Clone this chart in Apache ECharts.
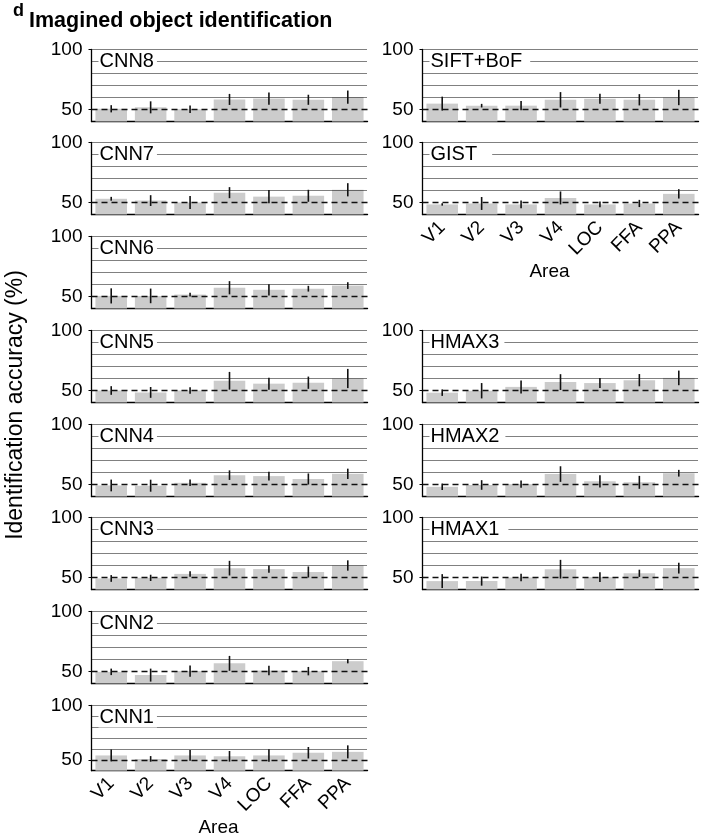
<!DOCTYPE html>
<html>
<head>
<meta charset="utf-8">
<script src="https://cdn.jsdelivr.net/npm/echarts@6/dist/echarts.min.js"></script>
<style>
  html, body { margin: 0; padding: 0; background: #fff; }
  #chart { width: 712px; height: 838px; }
</style>
</head>
<body>
<div id="chart"></div>
<script>
// categories (brain areas)
const areas = ['V1', 'V2', 'V3', 'V4', 'LOC', 'FFA', 'PPA'];
const yTicks = [50, 100];
const gridValues = [60, 70, 80, 90, 100];
const chance = 50;

// mean identification accuracy (%) and error (sd) per feature
const cnn8 = [50.6, 51.8, 50.2, 58.4, 59.1, 58.1, 60.3];
const cnn8Err = [3, 5, 3.2, 4.6, 5.1, 4.2, 5.5];
const cnn7 = [53.1, 51.6, 50, 58.2, 54.9, 55.6, 60.6];
const cnn7Err = [1.6, 4.5, 5.4, 4.6, 5.5, 5, 5.5];
const cnn6 = [50.5, 50.5, 51.6, 57.3, 55.6, 56.5, 59.1];
const cnn6Err = [6.3, 6.1, 1.5, 5.5, 4.7, 2.4, 2.8];
const cnn5 = [50, 48.4, 50, 58.1, 55.7, 56.5, 60];
const cnn5Err = [3.6, 4.5, 2.7, 7.4, 5, 5.1, 8];
const cnn4 = [49.2, 49, 51.4, 57.8, 57, 54.6, 58.9];
const cnn4Err = [4.9, 5, 2.7, 4, 3.6, 4.6, 4.3];
const cnn3 = [49.2, 49.7, 53, 57.8, 57, 54.6, 60];
const cnn3Err = [2.8, 2.6, 2.3, 6.1, 3.1, 4.6, 4.3];
const cnn2 = [49.7, 47, 50.3, 56.8, 50.8, 50.3, 58.6];
const cnn2Err = [2.7, 5.4, 4.6, 6.2, 3.9, 3.5, 1.8];
const cnn1 = [54, 50.8, 54, 53.2, 54, 56.5, 57.3];
const cnn1Err = [5.5, 2.6, 4.9, 4.9, 5.8, 5.3, 6];
const sift = [54.9, 53.2, 53.2, 58.1, 58.9, 58.1, 60];
const siftErr = [5.8, 1.5, 3.9, 6.4, 4.2, 4.7, 6.4];
const gist = [48.4, 49.2, 48.4, 53.8, 48.4, 49.2, 57.2];
const gistErr = [1, 5.4, 3.2, 5.4, 2.4, 3, 3.9];
const hmax3 = [48.2, 49.8, 53, 57, 56.2, 58.6, 60.5];
const hmax3Err = [2.7, 6.4, 5.4, 6.6, 4.2, 5.1, 6.1];
const hmax2 = [48.1, 49.6, 50.3, 58.7, 52.7, 51.8, 59.4];
const hmax2Err = [2.7, 4, 3.1, 6.5, 5.1, 5.4, 2.8];
const hmax1 = [47, 47, 50, 56.9, 50.3, 53.5, 57.8];
const hmax1Err = [5.8, 3.8, 3.1, 7.8, 4, 3, 4.5];

const panels = [
  { name: 'CNN8', mean: cnn8, err: cnn8Err, col: 0, row: 0 },
  { name: 'CNN7', mean: cnn7, err: cnn7Err, col: 0, row: 1 },
  { name: 'CNN6', mean: cnn6, err: cnn6Err, col: 0, row: 2 },
  { name: 'CNN5', mean: cnn5, err: cnn5Err, col: 0, row: 3 },
  { name: 'CNN4', mean: cnn4, err: cnn4Err, col: 0, row: 4 },
  { name: 'CNN3', mean: cnn3, err: cnn3Err, col: 0, row: 5 },
  { name: 'CNN2', mean: cnn2, err: cnn2Err, col: 0, row: 6 },
  { name: 'CNN1', mean: cnn1, err: cnn1Err, col: 0, row: 7, bottom: true },
  { name: 'SIFT+BoF', mean: sift, err: siftErr, col: 1, row: 0, pad: 8 },
  { name: 'GIST', mean: gist, err: gistErr, col: 1, row: 1, bottom: true, pad: 15 },
  { name: 'HMAX3', mean: hmax3, err: hmax3Err, col: 1, row: 3, pad: 5 },
  { name: 'HMAX2', mean: hmax2, err: hmax2Err, col: 1, row: 4, pad: 6 },
  { name: 'HMAX1', mean: hmax1, err: hmax1Err, col: 1, row: 5, pad: 9 }
];

const FONT = '"Liberation Sans", Arial, Helvetica, sans-serif';
const colLeft = [91.5, 422.5];
const rowTops = [49.5, 142.5, 236.5, 330.5, 424.5, 517.5, 611.5, 705.5];
const gridW = 276, gridH = 72;

const dotted = { color: '#000', width: 1, type: [1, 1] };
const dashed = { color: '#111', width: 1.4, type: [6, 4] };

const option = {
  animation: false,
  backgroundColor: '#fff',
  textStyle: { fontFamily: FONT, color: '#000' },
  title: [
    { text: 'd', left: 13, top: 2, padding: 0,
      textStyle: { fontSize: 18, fontWeight: 'bold', color: '#000', fontFamily: FONT } },
    { text: 'Imagined object identification', left: 29, top: 10, padding: 0,
      textStyle: { fontSize: 21.5, fontWeight: 'bold', color: '#000', fontFamily: FONT } }
  ],
  grid: [], xAxis: [], yAxis: [], series: [],
  graphic: [{
    type: 'text', x: 16, y: 405, rotation: Math.PI / 2,
    style: { text: 'Identification accuracy (%)', font: '23px ' + FONT, fill: '#000',
      align: 'center', verticalAlign: 'middle' }
  }]
};

panels.forEach((p, i) => {
  const left = colLeft[p.col], top = rowTops[p.row];
  option.grid.push({ left: left, top: top, width: gridW, height: gridH });
  option.title.push({
    text: p.name, left: left + 7, top: top + 2,
    padding: [0, p.pad || 3, 0, 1], backgroundColor: '#fff',
    textStyle: { fontSize: 20, lineHeight: 20, fontWeight: 'normal', color: '#000', fontFamily: FONT }
  });
  option.xAxis.push({
    type: 'category', gridIndex: i, data: areas,
    axisLine: { lineStyle: { color: '#000', width: 1.4 } },
    axisTick: { alignWithLabel: true, length: 4, lineStyle: { color: '#000', width: 1 } },
    axisLabel: { show: !!p.bottom, rotate: 45, fontSize: 19, color: '#000', margin: 10, interval: 0, fontFamily: FONT },
    name: p.bottom ? 'Area' : '', nameLocation: 'middle', nameGap: 38,
    nameTextStyle: { fontSize: 19, color: '#000', padding: [0, 22, 0, 0], fontFamily: FONT }
  });
  option.yAxis.push({
    type: 'value', gridIndex: i, min: 40, max: 100, interval: 10,
    axisLine: { show: true, lineStyle: { color: '#000', width: 1.3 } },
    axisTick: { show: true, customValues: yTicks, length: 3, lineStyle: { color: '#000' } },
    axisLabel: { customValues: yTicks, fontSize: 19, color: '#000', margin: 9, fontFamily: FONT },
    splitLine: { show: false }
  });
  option.series.push({
    type: 'bar', xAxisIndex: i, yAxisIndex: i, data: p.mean, barWidth: '80%',
    itemStyle: { color: '#cccccc' }, silent: true,
    markLine: {
      silent: true, symbol: 'none', label: { show: false },
      data: gridValues.map(v => ({ yAxis: v, lineStyle: dotted }))
        .concat([{ yAxis: chance, lineStyle: dashed }])
    }
  });
  option.series.push({
    type: 'custom', xAxisIndex: i, yAxisIndex: i, z: 5, silent: true,
    data: p.mean.map((m, k) => [k, m - p.err[k], m + p.err[k]]),
    encode: { x: 0, y: [1, 2] },
    renderItem: (params, api) => {
      const a = api.coord([api.value(0), api.value(1)]);
      const b = api.coord([api.value(0), api.value(2)]);
      return { type: 'line', shape: { x1: a[0], y1: a[1], x2: b[0], y2: b[1] },
        style: { stroke: '#111', lineWidth: 1.6 } };
    }
  });
});

const chart = echarts.init(document.getElementById('chart'));
chart.setOption(option);
window.addEventListener('resize', () => chart.resize());
</script>
</body>
</html>
